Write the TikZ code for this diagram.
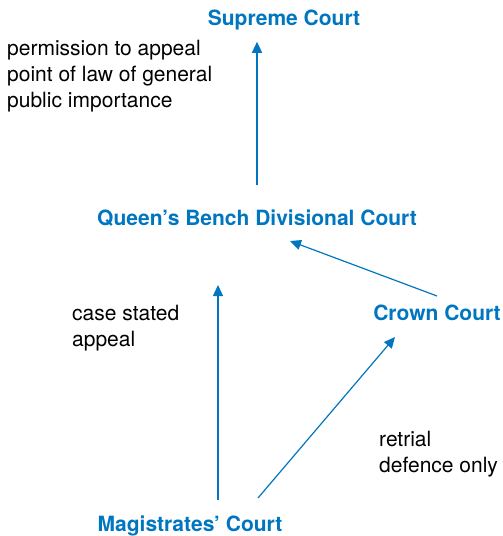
\documentclass[tikz,border=0pt]{standalone}
\usepackage{fontspec}
\setmainfont{TeX Gyre Heros}
\usetikzlibrary{positioning}
\usetikzlibrary{arrows.meta}
\definecolor{courtblue}{RGB}{0,118,192}

\begin{document}
\begin{tikzpicture}[x=1pt, y=-1pt,
    court/.style={text=courtblue, font=\fontsize{21}{26}\selectfont\bfseries, inner sep=0pt, anchor=base},
    note/.style={align=left, anchor=base west, inner sep=0pt, font=\fontsize{21}{26}\selectfont},
    route/.style={-{Triangle[width=10pt,length=11pt]}, courtblue, line width=1.2pt}]
            \useasboundingbox (0,0) rectangle (503,536);

            \node[court] (sc) at (284,25) {Supreme Court};
            \node[court] (qb) at (257,225) {Queen's Bench Divisional Court};
            \node[court] (cc) at (437,320) {Crown Court};
            \node[court] (mc) at (190,531) {Magistrates' Court};

            % multi-line notes sit on the baseline of their last line
            \node[note] (perm) at (7,107) {permission to appeal\\point of law of general\\public importance};
            \node[note] (case) at (72,346) {case stated\\appeal};
            \node[note] (retr) at (379,472) {retrial\\defence only};

            \coordinate (qbin) at (290,241);
            \coordinate (ccout) at (437,296);
            \coordinate (mcleft) at (218,500);
            \coordinate (qbleft) at (218,285);
            \coordinate (mcright) at (258,498);
            \coordinate (ccin) at (395,337);

            \draw[route, shorten <=24pt, shorten >=12pt] (qb.north) -- (qb.north |- sc.south);
            \draw[route] (ccout) -- (qbin);
            \draw[route] (mcleft) -- (qbleft);
            \draw[route] (mcright) -- (ccin);
        \end{tikzpicture}
\end{document}
